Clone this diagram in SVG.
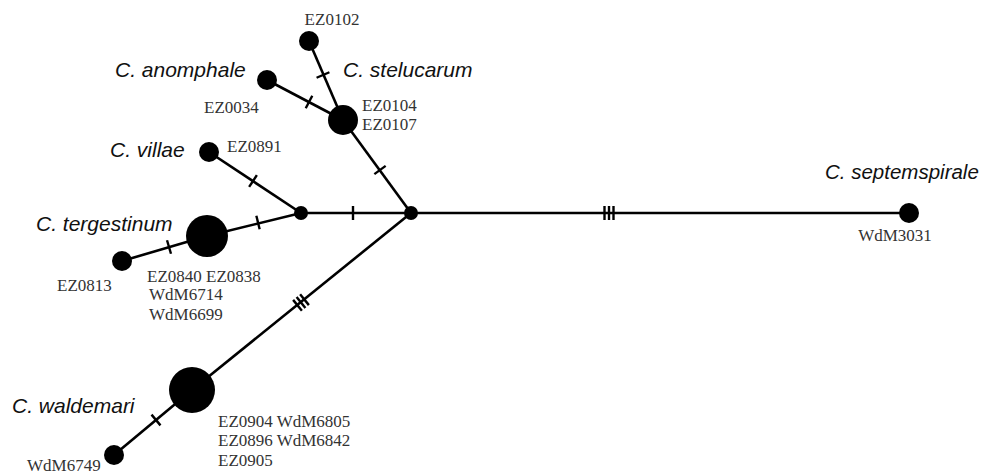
<svg xmlns="http://www.w3.org/2000/svg" xmlns:xlink="http://www.w3.org/1999/xlink" width="981" height="474" viewBox="0 0 981 474">
<style>
.e{stroke:#000;stroke-width:2.6;fill:none}
.t{stroke:#000;stroke-width:2.4}
.n{fill:#000}
.sp{font-family:"Liberation Sans",Arial,sans-serif;font-style:italic;font-size:21px;fill:#111}
.id{font-family:"Liberation Serif","Times New Roman",serif;font-size:17px;fill:#333}
</style>
<defs>
<line id="tk" class="t" x1="0" y1="-7" x2="0" y2="7"/>
<g id="tk3"><use xlink:href="#tk" x="-4.5"/><use xlink:href="#tk"/><use xlink:href="#tk" x="4.5"/></g>
</defs>
<rect width="981" height="474" fill="#fff"/>
<g id="connectors">
<line class="e" x1="309" y1="41" x2="343" y2="120"/>
<line class="e" x1="267" y1="80" x2="343" y2="120"/>
<line class="e" x1="343" y1="120" x2="411" y2="213"/>
<line class="e" x1="209" y1="152" x2="301" y2="213"/>
<line class="e" x1="301" y1="213" x2="411" y2="213"/>
<line class="e" x1="207" y1="236" x2="301" y2="213"/>
<line class="e" x1="122" y1="261" x2="207" y2="236"/>
<line class="e" x1="411" y1="213" x2="192" y2="390"/>
<line class="e" x1="192" y1="390" x2="114" y2="455"/>
<line class="e" x1="411" y1="213" x2="909" y2="213"/>
<use xlink:href="#tk" transform="translate(323,75) rotate(66.7)"/>
<use xlink:href="#tk" transform="translate(309,102) rotate(27.8)"/>
<use xlink:href="#tk" transform="translate(380,170) rotate(53.8)"/>
<use xlink:href="#tk" transform="translate(253,181) rotate(33.5)"/>
<use xlink:href="#tk" transform="translate(353,213)"/>
<use xlink:href="#tk" transform="translate(258,222.5) rotate(-13.7)"/>
<use xlink:href="#tk" transform="translate(169,247) rotate(-16.4)"/>
<use xlink:href="#tk3" transform="translate(301,302.5) rotate(-38.9)"/>
<use xlink:href="#tk" transform="translate(156,420) rotate(-39.8)"/>
<use xlink:href="#tk3" transform="translate(609,213)"/>
</g>
<g id="n-ez0102"><circle class="n" cx="309" cy="41" r="10"/><text class="id" x="332" y="25" text-anchor="middle">EZ0102</text></g>
<g id="n-anomphale"><circle class="n" cx="267" cy="80" r="10"/><text class="sp" x="115" y="77">C. anomphale</text><text class="id" x="204" y="113">EZ0034</text></g>
<g id="n-stelucarum"><circle class="n" cx="343" cy="120" r="15"/><text class="sp" x="343" y="77">C. stelucarum</text><text class="id" x="362" y="111">EZ0104</text><text class="id" x="362" y="130">EZ0107</text></g>
<g id="n-villae"><circle class="n" cx="209" cy="152" r="10"/><text class="sp" x="110" y="157">C. villae</text><text class="id" x="227" y="152">EZ0891</text></g>
<g id="n-junction"><circle class="n" cx="301" cy="213" r="7"/></g>
<g id="n-center"><circle class="n" cx="411" cy="213" r="7"/></g>
<g id="n-tergestinum"><circle class="n" cx="207" cy="236" r="21"/><text class="sp" x="36" y="231">C. tergestinum</text><text class="id" x="147" y="282">EZ0840 EZ0838</text><text class="id" x="149" y="300">WdM6714</text><text class="id" x="149" y="320">WdM6699</text></g>
<g id="n-ez0813"><circle class="n" cx="122" cy="261" r="10"/><text class="id" x="57" y="291">EZ0813</text></g>
<g id="n-waldemari"><circle class="n" cx="192" cy="390" r="23"/><text class="sp" x="12" y="413">C. waldemari</text><text class="id" x="218" y="427">EZ0904 WdM6805</text><text class="id" x="218" y="446">EZ0896 WdM6842</text><text class="id" x="218" y="466">EZ0905</text></g>
<g id="n-wdm6749"><circle class="n" cx="114" cy="455" r="10"/><text class="id" x="27" y="471">WdM6749</text></g>
<g id="n-septemspirale"><circle class="n" cx="909" cy="213" r="10"/><text class="sp" x="825" y="179" style="font-size:20.5px">C. septemspirale</text><text class="id" x="895" y="241" text-anchor="middle">WdM3031</text></g>
</svg>
